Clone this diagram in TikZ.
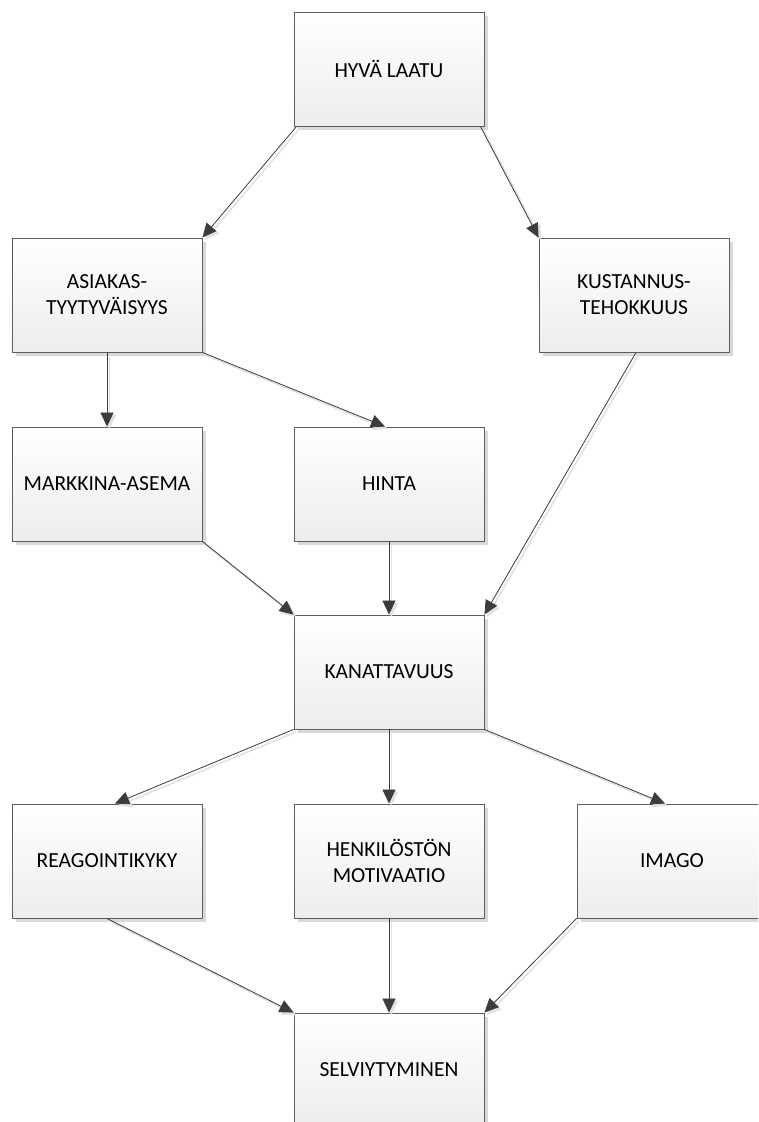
\documentclass[tikz,border=0pt]{standalone}
\usepackage{fontspec}
\setmainfont{Carlito}
\usetikzlibrary{arrows.meta,calc,shadows}
\definecolor{boxline}{HTML}{5E5E5E}
\definecolor{boxtop}{HTML}{FFFFFF}
\definecolor{boxbottom}{HTML}{EDEDED}
\definecolor{wire}{HTML}{3C3C3C}
\definecolor{wireshade}{HTML}{E2E2E2}
\tikzset{
  stagebox/.style={
    rectangle, draw=boxline, line width=0.9pt,
    top color=boxtop, bottom color=boxbottom,
    minimum width=190pt, minimum height=114pt, inner sep=0pt,
    align=center, font=\fontsize{21.5}{26}\selectfont, text=black,
    drop shadow={shadow xshift=4pt, shadow yshift=-4pt, fill=black!15, opacity=1}
  },
  link/.style={
    draw=wire, line width=0.8pt,
    -{Triangle[length=14pt,width=13pt]},
    preaction={draw=wireshade, line width=1.6pt,
      transform canvas={shift={(2.5pt,-2.5pt)}}}
  }
}
\begin{document}
\begin{tikzpicture}[x=1pt,y=-1pt]
  \clip (0,0) rectangle (758,1122);
  \fill[white] (0,0) rectangle (758,1122);

  % stages of the chain, top to bottom
  \node[stagebox] (laatu)   at (389,69)   {HYVÄ LAATU};
  \node[stagebox] (asiakas) at (107,295)  {ASIAKAS-\\TYYTYVÄISYYS};
  \node[stagebox] (kust)    at (634,295)  {KUSTANNUS-\\TEHOKKUUS};
  \node[stagebox] (markk)   at (107,484)  {MARKKINA-ASEMA};
  \node[stagebox] (hinta)   at (389,484)  {HINTA};
  \node[stagebox] (kanat)   at (389,672)  {KANATTAVUUS};
  \node[stagebox] (reag)    at (107,861)  {REAGOINTIKYKY};
  \node[stagebox] (henk)    at (389,861)  {HENKILÖSTÖN\\MOTIVAATIO};
  \node[stagebox] (imago)   at (672,861)  {IMAGO};
  \node[stagebox] (selv)    at (389,1070) {SELVIYTYMINEN};

  % effects between the stages
  \draw[link] ($(laatu.south west)+(3,0)$) -- (asiakas.north east);
  \draw[link] ($(laatu.south east)+(-4,0)$) -- (kust.north west);
  \draw[link] (asiakas.south) -- (markk.north);
  \draw[link] (asiakas.south east) -- ($(hinta.north)+(-4,0)$);
  \draw[link] ($(kust.south)+(2,0)$) -- (kanat.north east);
  \draw[link] (markk.south east) -- (kanat.north west);
  \draw[link] (hinta.south) -- (kanat.north);
  \draw[link] (kanat.south west) -- ($(reag.north)+(8,0)$);
  \draw[link] (kanat.south) -- (henk.north);
  \draw[link] (kanat.south east) -- ($(imago.north)+(-7,0)$);
  \draw[link] (reag.south) -- (selv.north west);
  \draw[link] (henk.south) -- (selv.north);
  \draw[link] (imago.south west) -- (selv.north east);
\end{tikzpicture}
\end{document}
